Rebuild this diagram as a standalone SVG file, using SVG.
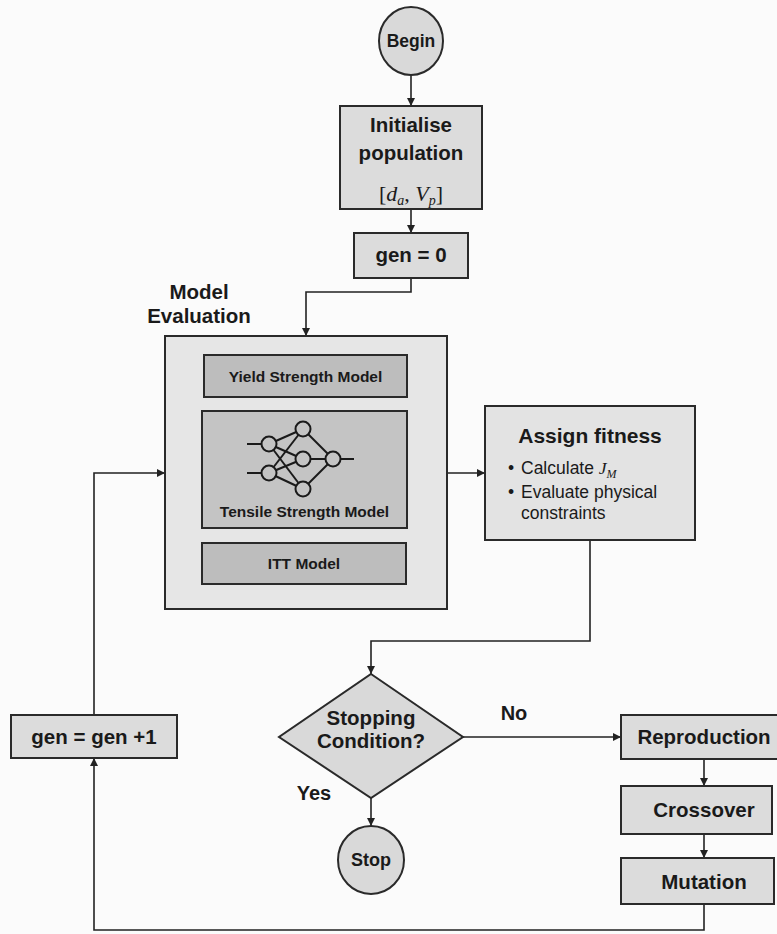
<svg xmlns="http://www.w3.org/2000/svg" width="777" height="934" viewBox="0 0 777 934">
  <defs>
    <marker id="arrow" viewBox="0 0 10 10" refX="10" refY="5" markerWidth="9" markerHeight="8" markerUnits="userSpaceOnUse" orient="auto">
      <path d="M0 0 L10 5 L0 10 z" fill="#222"/>
    </marker>
    <style>
      .box { fill: #dcdcdc; stroke: #2a2a2a; stroke-width: 2; }
      .outer { fill: #e6e6e6; stroke: #2a2a2a; stroke-width: 2; }
      .inner { fill: #bdbdbd; stroke: #2a2a2a; stroke-width: 2; }
      .soft { fill: #e3e3e3; stroke: #2a2a2a; stroke-width: 2; }
      .term { fill: #d9d9d9; stroke: #2a2a2a; stroke-width: 2; }
      .lbl { font-family: "Liberation Sans", Arial, sans-serif; font-weight: bold; font-size: 20.5px; fill: #1a1a1a; text-anchor: middle; }
      .small { font-family: "Liberation Sans", Arial, sans-serif; font-weight: bold; font-size: 15.5px; fill: #1a1a1a; text-anchor: middle; }
      .bul { font-family: "Liberation Sans", Arial, sans-serif; font-size: 17.5px; fill: #1a1a1a; }
      .math { font-family: "Liberation Serif", "Times New Roman", serif; }
      .conn { fill: none; stroke: #222; stroke-width: 1.6; }
      .net line { stroke: #1a1a1a; stroke-width: 2; }
      .net circle { fill: #c4c4c4; stroke: #1a1a1a; stroke-width: 2; }
    </style>
  </defs>

  <rect width="777" height="934" fill="#fbfbfb"/>

  <!-- connectors -->
  <g id="connectors" class="conn">
    <path d="M411 75 V106" marker-end="url(#arrow)"/>
    <path d="M411 209 V233" marker-end="url(#arrow)"/>
    <path d="M411 278 V292 H306 V336" marker-end="url(#arrow)"/>
    <path d="M447 473 H485" marker-end="url(#arrow)"/>
    <path d="M590 540 V641 H371 V674" marker-end="url(#arrow)"/>
    <path d="M463 737 H621" marker-end="url(#arrow)"/>
    <path d="M704 759 V786" marker-end="url(#arrow)"/>
    <path d="M704 834 V858" marker-end="url(#arrow)"/>
    <path d="M704 904 V930 H94 V758" marker-end="url(#arrow)"/>
    <path d="M94 715 V473 H165" marker-end="url(#arrow)"/>
    <path d="M371 798 V826" marker-end="url(#arrow)"/>
  </g>

  <g id="begin">
    <ellipse class="term" cx="411" cy="41" rx="32" ry="34"/>
    <text class="lbl" x="411" y="47" style="font-size:17.5px">Begin</text>
  </g>

  <g id="initialise">
    <rect class="box" x="340" y="106" width="142" height="103"/>
    <text class="lbl" x="411" y="132">Initialise</text>
    <text class="lbl" x="411" y="160">population</text>
    <text class="math" x="411" y="201" text-anchor="middle" font-size="22" fill="#1a1a1a">[<tspan font-style="italic">d</tspan><tspan font-style="italic" font-size="14" dy="4">a</tspan><tspan dy="-4">, </tspan><tspan font-style="italic">V</tspan><tspan font-style="italic" font-size="14" dy="4">p</tspan><tspan dy="-4">]</tspan></text>
  </g>

  <g id="gen-zero">
    <rect class="box" x="354" y="233" width="114" height="45"/>
    <text class="lbl" x="411" y="262">gen = 0</text>
  </g>

  <g id="model-evaluation">
    <text class="lbl" x="199" y="299">Model</text>
    <text class="lbl" x="199" y="323">Evaluation</text>
    <rect class="outer" x="165" y="336" width="282" height="273"/>
    <g id="yield-model">
      <rect class="inner" x="204" y="355" width="203" height="42"/>
      <text class="small" x="305.5" y="382">Yield Strength Model</text>
    </g>
    <g id="tensile-model">
      <rect class="inner" x="202" y="411" width="205" height="117" style="fill:#c4c4c4"/>
      <g class="net">
        <line x1="247" y1="444" x2="262" y2="444"/>
        <line x1="247" y1="473" x2="262" y2="473"/>
        <line x1="269" y1="444" x2="303" y2="429"/>
        <line x1="269" y1="444" x2="303" y2="459"/>
        <line x1="269" y1="444" x2="303" y2="489"/>
        <line x1="269" y1="473" x2="303" y2="429"/>
        <line x1="269" y1="473" x2="303" y2="459"/>
        <line x1="269" y1="473" x2="303" y2="489"/>
        <line x1="303" y1="429" x2="333" y2="459"/>
        <line x1="303" y1="459" x2="333" y2="459"/>
        <line x1="303" y1="489" x2="333" y2="459"/>
        <line x1="340" y1="459" x2="354" y2="459"/>
        <circle cx="269" cy="444" r="7.5"/>
        <circle cx="269" cy="473" r="7.5"/>
        <circle cx="303" cy="429" r="7.5"/>
        <circle cx="303" cy="459" r="7.5"/>
        <circle cx="303" cy="489" r="7.5"/>
        <circle cx="333" cy="459" r="7.5"/>
      </g>
      <text class="small" x="304.5" y="517">Tensile Strength Model</text>
    </g>
    <g id="itt-model">
      <rect class="inner" x="202" y="543" width="204" height="41"/>
      <text class="small" x="304" y="569">ITT Model</text>
    </g>
  </g>

  <g id="assign-fitness">
    <rect class="soft" x="485" y="406" width="210" height="134"/>
    <text class="lbl" x="590" y="443" style="font-size:21px">Assign fitness</text>
    <text class="bul" x="508" y="474">•<tspan x="521">Calculate </tspan><tspan class="math" font-style="italic">J</tspan><tspan class="math" font-style="italic" font-size="12" dy="4">M</tspan></text>
    <text class="bul" x="508" y="498">•<tspan x="521">Evaluate physical</tspan><tspan x="521" y="519">constraints</tspan></text>
  </g>

  <g id="stopping-condition">
    <polygon class="term" points="371,674 463,737 371,798 279,737"/>
    <text class="lbl" x="371" y="725">Stopping</text>
    <text class="lbl" x="371" y="748">Condition?</text>
    <text class="lbl" x="514" y="720" style="font-size:20px">No</text>
    <text class="lbl" x="314" y="800" style="font-size:20px">Yes</text>
  </g>

  <g id="stop">
    <ellipse class="term" cx="371" cy="860" rx="33" ry="34"/>
    <text class="lbl" x="371" y="866" style="font-size:18px">Stop</text>
  </g>

  <g id="gen-increment">
    <rect class="box" x="11" y="715" width="166" height="43"/>
    <text class="lbl" x="94" y="744">gen = gen +1</text>
  </g>

  <g id="reproduction">
    <rect class="box" x="621" y="715" width="170" height="44"/>
    <text class="lbl" x="704" y="744">Reproduction</text>
  </g>

  <g id="crossover">
    <rect class="box" x="621" y="786" width="151" height="48"/>
    <text class="lbl" x="704" y="817">Crossover</text>
  </g>

  <g id="mutation">
    <rect class="box" x="621" y="858" width="153" height="46"/>
    <text class="lbl" x="704" y="889">Mutation</text>
  </g>
</svg>
